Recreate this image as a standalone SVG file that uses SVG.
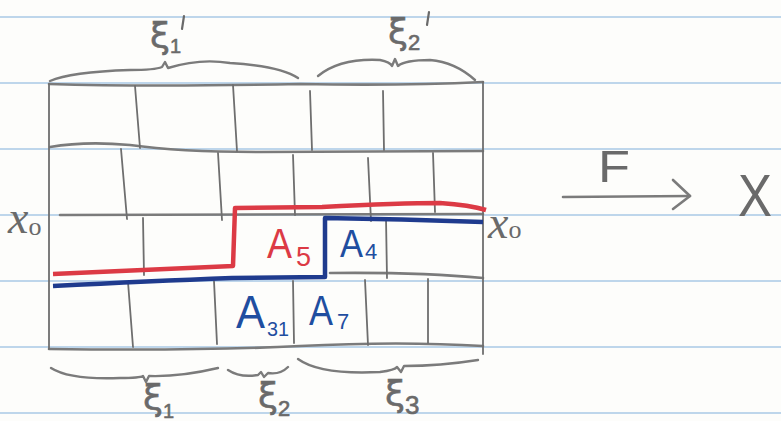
<svg xmlns="http://www.w3.org/2000/svg" width="781" height="421" viewBox="0 0 781 421">
<style>
.rule{stroke:#a9c9e6;stroke-width:1.6;fill:none}
.pen{stroke:#7b7b7b;stroke-width:2.6;fill:none;stroke-linecap:round;stroke-linejoin:round}
.thin{stroke:#6e6e6e;stroke-width:1.8;fill:none;stroke-linecap:round}
.brace{stroke:#7b7b7b;stroke-width:2.4;fill:none;stroke-linecap:round;stroke-linejoin:round}
.red{stroke:#dc3a45;stroke-width:4.5;fill:none;stroke-linejoin:round}
.blue{stroke:#1f3b8e;stroke-width:4.5;fill:none;stroke-linejoin:round}
.lbl{font-family:"DejaVu Sans","Liberation Sans",sans-serif;fill:#6a6a6a;stroke:#6a6a6a;stroke-width:0.6}
.xo{font-family:"Liberation Serif","DejaVu Serif",serif;font-style:italic;fill:#6a6a6a}
.sub{font-family:"Liberation Sans","DejaVu Sans",sans-serif;fill:#6a6a6a}
.A{font-family:"Liberation Sans","DejaVu Sans",sans-serif}
.prime{stroke:#6a6a6a;stroke-width:2.2;stroke-linecap:round}
</style>
<rect width="781" height="421" fill="#fdfdfb"/>
<g id="ruled-lines">
<line class="rule" x1="0" y1="17" x2="781" y2="17"/>
<line class="rule" x1="0" y1="83" x2="781" y2="83"/>
<line class="rule" x1="0" y1="149" x2="781" y2="149"/>
<line class="rule" x1="0" y1="215" x2="781" y2="215"/>
<line class="rule" x1="0" y1="281" x2="781" y2="281"/>
<line class="rule" x1="0" y1="347" x2="781" y2="347"/>
<line class="rule" x1="0" y1="413" x2="781" y2="413"/>
</g>
<g id="grid">
<path class="pen" d="M49,84 Q150,87 300,84 Q400,86 483,82"/>
<path class="pen" d="M50,147 Q85,141 130,145 Q180,152 260,152 L483,151"/>
<path class="pen" d="M60,215 L483,214"/>
<path class="pen" d="M330,273 Q420,272 483,278"/>
<path class="pen" d="M49,349 Q200,351 300,346 Q400,341 483,346"/>
<line class="thin" x1="49" y1="84" x2="49" y2="349"/>
<line class="thin" x1="483" y1="82" x2="483" y2="354"/>
<line class="thin" x1="135" y1="86" x2="140" y2="148"/>
<line class="thin" x1="233" y1="85" x2="237" y2="151"/>
<line class="thin" x1="310" y1="91" x2="312" y2="150"/>
<line class="thin" x1="383" y1="91" x2="384" y2="150"/>
<line class="thin" x1="121" y1="149" x2="127" y2="219"/>
<line class="thin" x1="218" y1="153" x2="222" y2="220"/>
<line class="thin" x1="293" y1="155" x2="295" y2="215"/>
<line class="thin" x1="368" y1="158" x2="371" y2="221"/>
<line class="thin" x1="433" y1="153" x2="435" y2="212"/>
<line class="thin" x1="143" y1="218" x2="144" y2="275"/>
<line class="thin" x1="386" y1="218" x2="387" y2="278"/>
<line class="thin" x1="128" y1="282" x2="133" y2="347"/>
<line class="thin" x1="214" y1="281" x2="217" y2="344"/>
<line class="thin" x1="293" y1="281" x2="294" y2="343"/>
<line class="thin" x1="365" y1="280" x2="368" y2="345"/>
<line class="thin" x1="428" y1="279" x2="428" y2="343"/>
</g>
<g id="red-path">
<path class="red" d="M53,274 Q150,270 233,266 L235,208 L322,207 Q400,203 440,203 Q470,205 486,210"/>
</g>
<g id="blue-path">
<path class="blue" d="M53,286 Q150,281 232,278 L325,277 L325,218 Q400,219 483,222"/>
</g>
<g id="label-A5">
<text class="A" x="267" y="258" font-size="42" fill="#dc3a45" textLength="25" lengthAdjust="spacingAndGlyphs">A</text>
<text class="A" x="296" y="266" font-size="27" fill="#dc3a45">5</text>
</g>
<g id="label-A4">
<text class="A" x="340" y="257" font-size="38" fill="#1f4ea0" textLength="23" lengthAdjust="spacingAndGlyphs">A</text>
<text class="A" x="365" y="259" font-size="22" fill="#1f4ea0">4</text>
</g>
<g id="label-A31">
<text class="A" x="236" y="328" font-size="46" fill="#1f4ea0" textLength="29" lengthAdjust="spacingAndGlyphs">A</text>
<text class="A" x="267" y="336" font-size="21" fill="#1f4ea0" textLength="22" lengthAdjust="spacingAndGlyphs">31</text>
</g>
<g id="label-A7">
<text class="A" x="309" y="325" font-size="42" fill="#1f4ea0" textLength="24" lengthAdjust="spacingAndGlyphs">A</text>
<text class="A" x="337" y="329" font-size="22" fill="#1f4ea0">7</text>
</g>
<g id="braces">
<path class="brace" d="M50,81 Q70,72 130,70 Q155,70 162,67 L165,62 L168,68 Q200,58 230,63 Q280,66 298,78"/>
<path class="brace" d="M318,76 Q340,58 380,60 Q390,62 392,66 L395,59 L398,66 Q405,60 430,60 Q455,62 475,80"/>
<path class="brace" d="M51,368 Q70,380 120,378 Q140,378 143,376 L146,382 L149,376 Q180,377 218,368"/>
<path class="brace" d="M228,370 Q240,378 258,375 L261,372 L264,377 L268,373 Q280,375 288,367"/>
<path class="brace" d="M298,359 Q320,375 380,372 Q395,370 397,367 L401,372 L404,366 Q440,366 478,360"/>
</g>
<g id="brace-labels">
<text class="lbl" x="150" y="48" font-size="36">ξ<tspan class="sub" font-size="20" dy="5">1</tspan></text>
<line class="prime" x1="184" y1="16" x2="182" y2="29"/>
<text class="lbl" x="388" y="44" font-size="36">ξ<tspan class="sub" font-size="22" dy="6">2</tspan></text>
<line class="prime" x1="429" y1="12" x2="427" y2="25"/>
<text class="lbl" x="143" y="410" font-size="36">ξ<tspan class="sub" font-size="20" dy="8">1</tspan></text>
<text class="lbl" x="258" y="408" font-size="36">ξ<tspan class="sub" font-size="22" dy="8">2</tspan></text>
<text class="lbl" x="385" y="406" font-size="36">ξ<tspan class="sub" font-size="26" dy="8">3</tspan></text>
</g>
<g id="basepoints">
<text class="xo" x="8" y="233" font-size="46">x<tspan font-style="normal" font-size="26" dy="2">o</tspan></text>
<text class="xo" x="488" y="238" font-size="46">x<tspan font-style="normal" font-size="26" dy="0">o</tspan></text>
</g>
<g id="map-arrow">
<path class="pen" d="M563,197 L690,196"/>
<path class="pen" d="M673,180 L690,196 L673,209"/>
<text class="sub" x="598" y="182" font-size="44" fill="#6a6a6a" textLength="32" lengthAdjust="spacingAndGlyphs">F</text>
<text class="sub" x="738" y="216" font-size="60" fill="#6a6a6a" textLength="34" lengthAdjust="spacingAndGlyphs">X</text>
</g>
</svg>
